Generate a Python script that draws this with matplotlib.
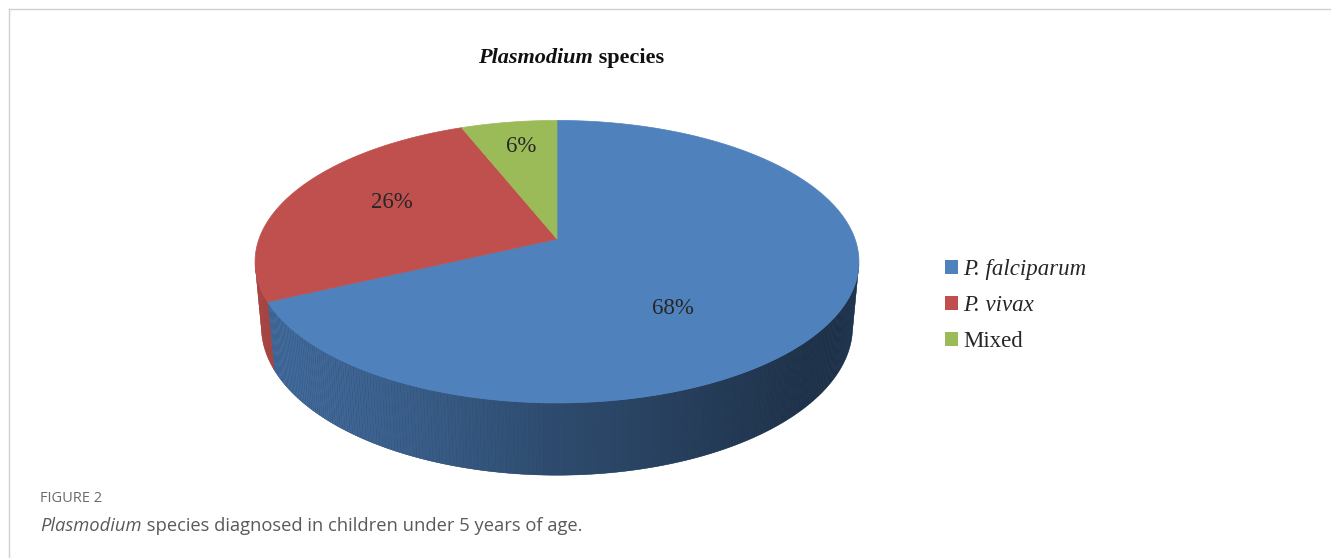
import numpy as np
import matplotlib.pyplot as plt
from matplotlib.patches import Polygon, Patch

# data
species = ['P. falciparum', 'P. vivax', 'Mixed']
italic_name = [True, True, False]
percent = [68, 26, 6]
colors = ['#4F81BD', '#C0504D', '#9BBB59']

# 3d view of the pie (excel style perspective)
elev = np.radians(27.5)
dist = 5.52
thick = 0.248
scale = 1645
cx, cy = 557, 239

# where excel put the % labels: radius and turn from the mid angle (deg)
label_r = [0.59, 0.64, 0.77]
label_turn = [-20, -4, -0.7]


def project(x, y, z):
    d = dist + y * np.cos(elev) - z * np.sin(elev)
    u = x / d
    v = (y * np.sin(elev) + z * np.cos(elev)) / d
    return cx + scale * u, cy - scale * v


def shade(hexcol, f):
    rgb = np.array([int(hexcol[i:i + 2], 16) for i in (1, 3, 5)]) / 255.0
    return tuple(np.clip(rgb * f, 0, 1))


def light(t):
    return np.interp(np.cos(t), [-1, -0.4, 0, 0.75, 1], [0.88, 0.72, 0.58, 0.38, 0.37])


fig = plt.figure(figsize=(13.31, 5.58), dpi=100)
ax = fig.add_axes([0, 0, 1, 1])
ax.set_xlim(0, 1331)
ax.set_ylim(558, 0)
ax.axis('off')

# panel frame
ax.plot([9, 1331], [9, 9], color='#d0d0d0', lw=1)
ax.plot([9, 9], [9, 558], color='#d0d0d0', lw=1)

edges = 90 - 360 * np.cumsum([0] + percent) / 100.0

# side walls first
for i, col in enumerate(colors):
    ts = np.radians(np.linspace(edges[i], edges[i + 1], 400))
    ts = ts[np.sin(ts) < -0.17]
    if len(ts) < 2:
        continue
    # base wall in one colour, so no hairline gaps show between strips
    tx, ty = project(np.cos(ts), np.sin(ts), 0)
    bx, by = project(np.cos(ts), np.sin(ts), -thick)
    wall = np.vstack([np.column_stack([tx, ty]), np.column_stack([bx, by])[::-1]])
    c0 = shade(col, light(ts[len(ts) // 2]))
    ax.add_patch(Polygon(wall, closed=True, fc=c0, ec=c0, lw=0.3))
    for a, b in zip(ts[:-1], ts[1:]):
        xa, ya = project(np.cos(a), np.sin(a), 0)
        xb, yb = project(np.cos(b), np.sin(b), 0)
        xc, yc = project(np.cos(b), np.sin(b), -thick)
        xd, yd = project(np.cos(a), np.sin(a), -thick)
        c = shade(col, light(0.5 * (a + b)))
        ax.add_patch(Polygon([(xa, ya), (xb, yb), (xc, yc), (xd, yd)],
                             closed=True, fc=c, ec='none', lw=0))

# top face + labels
for i, col in enumerate(colors):
    ts = np.radians(np.linspace(edges[i], edges[i + 1], 300))
    px, py = project(np.cos(ts), np.sin(ts), 0)
    ox, oy = project(0, 0, 0)
    pts = np.vstack([[ox, oy], np.column_stack([px, py])])
    ax.add_patch(Polygon(pts, closed=True, fc=col, ec=col, lw=0.5))
    mid = np.radians(0.5 * (edges[i] + edges[i + 1]) + label_turn[i])
    gx, gy = project(label_r[i] * np.cos(mid), label_r[i] * np.sin(mid), 0)
    ax.text(gx, gy, f'{percent[i]}%', ha='center', va='center',
            family='Liberation Serif', fontsize=16.5, color='#262626')

# title
t1 = ax.text(478, 63, 'Plasmodium', family='Liberation Serif', fontsize=16,
             style='italic', weight='bold', color='#111111', va='baseline')
ax.annotate(' species', xy=(1, 63), xycoords=(t1, 'data'), family='Liberation Serif',
            fontsize=16, weight='bold', color='#111111', va='baseline')

# legend
handles = [Patch(fc=c, ec='none') for c in colors]
leg = ax.legend(handles, species, loc='center left', bbox_to_anchor=(945 / 1331, 1 - 305.5 / 558),
                frameon=False, prop={'family': 'Liberation Serif', 'size': 16.5},
                handlelength=0.55, handleheight=0.55, handletextpad=0.25,
                labelspacing=0.66, borderpad=0, borderaxespad=0)
for txt, it in zip(leg.get_texts(), italic_name):
    txt.set_color('#262626')
    if it:
        txt.set_style('italic')

# caption
ax.text(40, 499, 'FIGURE 2', family='Open Sans', fontsize=10.5, color='#6b6b6b', va='center')
c1 = ax.text(40, 531, 'Plasmodium', family='Open Sans', fontsize=13.2, style='italic',
             color='#5a5a5a', va='baseline')
ax.annotate(' species diagnosed in children under 5 years of age.', xy=(1, 531),
            xycoords=(c1, 'data'), family='Open Sans', fontsize=13.2, color='#5a5a5a',
            va='baseline')

fig.savefig('out.png', dpi=100)
